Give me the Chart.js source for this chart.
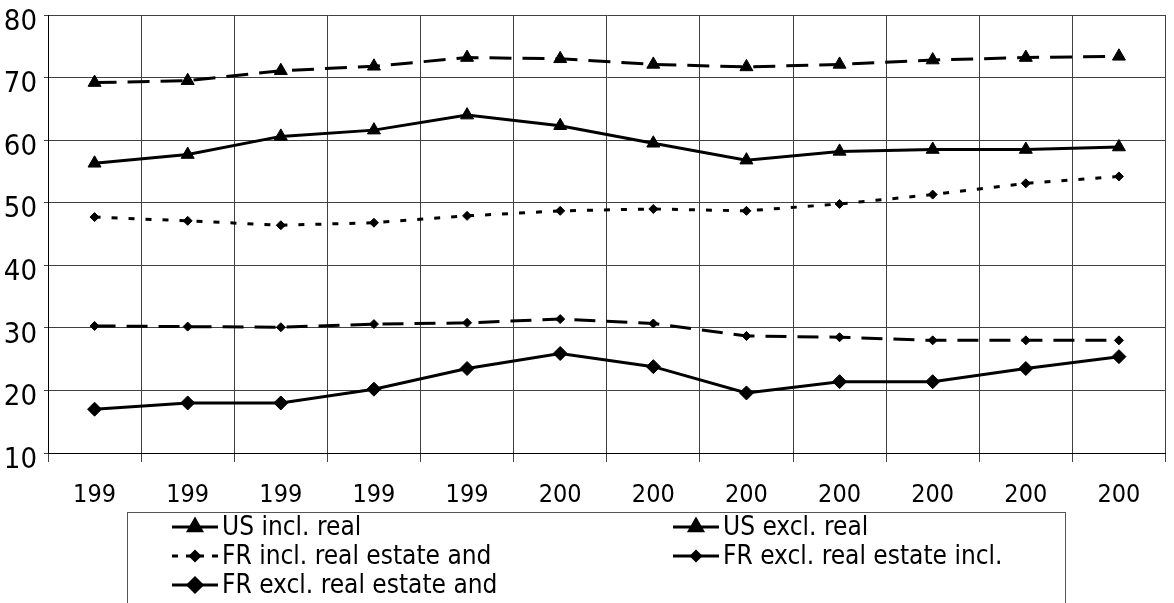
<!DOCTYPE html>
<html>
<head>
<meta charset="utf-8">
<script src="https://cdn.jsdelivr.net/npm/chart.js@4.4.1/dist/chart.umd.min.js"></script>
<style>
  html, body { margin: 0; padding: 0; background: #fff; }
  #wrap { width: 1174px; height: 603px; position: relative; }
</style>
</head>
<body>
<div id="wrap"><canvas id="c" width="1174" height="603"></canvas></div>
<script>
// Year labels as printed under the axis (truncated to three digits)
const categories = ['199', '199', '199', '199', '199', '200', '200', '200', '200', '200', '200', '200'];

const usInclReal = [69.2, 69.5, 71.1, 71.8, 73.2, 73.0, 72.1, 71.7, 72.1, 72.8, 73.2, 73.4];
const usExclReal = [56.3, 57.7, 60.6, 61.6, 64.0, 62.3, 59.5, 56.8, 58.2, 58.5, 58.5, 58.9];
const frInclRealEstateAnd = [47.7, 47.1, 46.4, 46.8, 47.9, 48.7, 49.0, 48.7, 49.8, 51.3, 53.1, 54.2];
const frExclRealEstateIncl = [30.3, 30.2, 30.1, 30.6, 30.8, 31.4, 30.7, 28.7, 28.5, 28.0, 28.0, 28.0];
const frExclRealEstateAnd = [17.0, 18.0, 18.0, 20.2, 23.5, 25.9, 23.8, 19.6, 21.4, 21.4, 23.5, 25.4];

const seriesNames = [
  'US incl. real',
  'US excl. real',
  'FR incl. real estate and',
  'FR excl. real estate incl.',
  'FR excl. real estate and'
];

const yMin = 10, yMax = 80, yStep = 10;

const FONT = "'Liberation Sans Narrow', 'Arial Narrow', 'DejaVu Sans Condensed', sans-serif";
const INK = '#000';

function series(label, data, dash, pointStyle, radius, legendDash) {
  return {
    label, data,
    borderColor: INK, backgroundColor: INK,
    borderWidth: 3, borderDash: dash,
    pointStyle, pointRadius: radius, pointHoverRadius: radius,
    pointBackgroundColor: INK, pointBorderColor: INK, pointBorderWidth: 1,
    tension: 0, fill: false,
    legendDash
  };
}

// Two-column boxed legend drawn under the plot
const boxedLegend = {
  id: 'boxedLegend',
  afterDraw(chart) {
    const ctx = chart.ctx;
    ctx.save();
    ctx.strokeStyle = '#555';
    ctx.lineWidth = 1;
    ctx.setLineDash([]);
    ctx.strokeRect(127.5, 512.5, 938, 120);

    const cols = [172, 673];
    const rows = [527, 556, 585];
    ctx.font = '26px ' + FONT;
    ctx.textBaseline = 'middle';
    ctx.textAlign = 'left';
    chart.data.datasets.forEach((ds, i) => {
      const x = cols[i % 2];
      const y = rows[Math.floor(i / 2)];
      const segW = 46;
      const mid = x + segW / 2;
      ctx.strokeStyle = INK;
      ctx.lineWidth = 3;
      ctx.setLineDash(ds.legendDash);
      ctx.beginPath();
      ctx.moveTo(x, y); ctx.lineTo(mid, y);
      ctx.stroke();
      ctx.beginPath();
      ctx.moveTo(x + segW, y); ctx.lineTo(mid, y);
      ctx.stroke();
      ctx.setLineDash([]);
      ctx.fillStyle = INK;
      ctx.beginPath();
      Chart.helpers.drawPoint(ctx, {
        pointStyle: ds.pointStyle, radius: ds.pointRadius, borderWidth: 1, rotation: 0
      }, mid, y);
      ctx.fill();
      ctx.fillText(ds.label, x + segW + 4, y + 1);
    });
    ctx.restore();
  }
};

new Chart(document.getElementById('c'), {
  type: 'line',
  data: {
    labels: categories,
    datasets: [
      series(seriesNames[0], usInclReal, [22, 11], 'triangle', 7.5, []),
      series(seriesNames[1], usExclReal, [], 'triangle', 7.5, []),
      series(seriesNames[2], frInclRealEstateAnd, [6, 11], 'rectRot', 4.5, [6, 8]),
      series(seriesNames[3], frExclRealEstateIncl, [21, 11], 'rectRot', 4.5, []),
      series(seriesNames[4], frExclRealEstateAnd, [], 'rectRot', 7, [])
    ]
  },
  options: {
    responsive: false,
    animation: false,
    events: [],
    layout: { padding: { top: 15, left: 0, right: 0, bottom: 0 } },
    plugins: { legend: { display: false }, tooltip: { enabled: false } },
    scales: {
      x: {
        offset: true,
        afterFit(scale) {
          scale.height = 150;
          scale.paddingLeft = 0; scale.paddingRight = 0;
        },
        grid: { offset: true, color: '#404040', lineWidth: 1, tickLength: 9, drawTicks: true },
        border: { color: INK, width: 1 },
        ticks: {
          color: INK, padding: 18, maxRotation: 0, autoSkip: false,
          font: { family: FONT, size: 25 }
        }
      },
      y: {
        min: yMin, max: yMax,
        afterFit(scale) {
          scale.width = 48;
          scale.paddingTop = 0; scale.paddingBottom = 0;
        },
        grid: { color: '#404040', lineWidth: 1, tickLength: 4 },
        border: { color: INK, width: 1 },
        ticks: {
          stepSize: yStep, color: INK, padding: 7,
          font: { family: FONT, size: 29, lineHeight: 0.5 },
          callback: (v) => ['', String(v)]
        }
      }
    }
  },
  plugins: [boxedLegend]
});
</script>
</body>
</html>
